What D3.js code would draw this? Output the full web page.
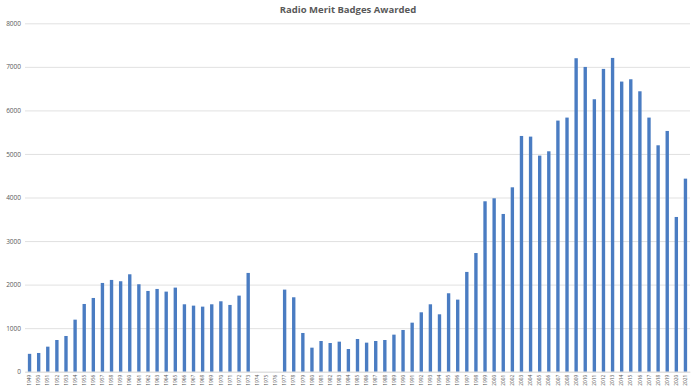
<!DOCTYPE html>
<html>
<head>
<meta charset="utf-8">
<script src="https://cdn.jsdelivr.net/npm/d3@7"></script>
<style>
  body { margin: 0; background: #fff; }
  svg { display: block; font-family: 'Open Sans', 'Liberation Sans', sans-serif; }
</style>
</head>
<body>
<svg id="chart" width="696" height="390"></svg>
<script>
// years 1949..2021, values (1974-1976 have no bar)
const years = d3.range(1949, 2022).map(String);
const badges = [
  410, 430, 575, 728, 820, 1195, 1555, 1693, 2038, 2107,
  2077, 2237, 2008, 1854, 1900, 1839, 1931, 1548, 1517, 1494,
  1548, 1617, 1533, 1747, 2268, 0, 0, 0, 1885, 1709,
  889, 552, 705, 659, 690, 521, 751, 667, 705, 728,
  851, 958, 1126, 1364, 1548, 1318, 1801, 1655, 2291, 2725,
  3913, 3982, 3622, 4234, 5413, 5398, 4962, 5061, 5766, 5835,
  7198, 6998, 6256, 6953, 7205, 6662, 6715, 6439, 5835, 5199,
  5528, 3553, 4433
];
const yTicks = [0, 1000, 2000, 3000, 4000, 5000, 6000, 7000, 8000];
const title = 'Radio Merit Badges Awarded';

const margin = { top: 23, right: 6, bottom: 18, left: 25 };
const width = 696, height = 390;

const svg = d3.select('#chart');

const x = d3.scaleBand()
    .domain(years)
    .range([margin.left, width - margin.right])
    .paddingInner(0.63)
    .paddingOuter(0.315);

const y = d3.scaleLinear()
    .domain([0, 8000])
    .range([height - margin.bottom - 0.3, margin.top + 0.3]);

svg.append('text')
    .attr('x', 348)
    .attr('y', 13)
    .attr('text-anchor', 'middle')
    .style('font-size', '9.5px')
    .style('font-weight', 'bold')
    .style('fill', '#595959')
    .text(title);

// grid + y labels
const yAxis = svg.append('g')
    .attr('transform', `translate(${margin.left},0)`)
    .call(d3.axisLeft(y).tickValues(yTicks).tickFormat(d3.format('d'))
      .tickSize(-(width - margin.left - margin.right)).tickPadding(4));
yAxis.select('.domain').remove();
yAxis.selectAll('.tick line').attr('stroke', '#d9d9d9').attr('stroke-width', 0.8);
yAxis.selectAll('.tick text')
    .style('font-size', '6.5px')
    .style('fill', '#595959')
    .style('font-family', "'Open Sans', sans-serif");

svg.append('g')
  .selectAll('rect')
  .data(badges)
  .enter().append('rect')
    .attr('x', (d, i) => x(years[i]))
    .attr('width', x.bandwidth())
    .attr('y', d => y(d))
    .attr('height', d => y(0) - y(d))
    .attr('fill', '#4a7cc2');

// x labels rotated
const xAxis = svg.append('g')
    .attr('transform', `translate(0,${y(0)})`)
    .call(d3.axisBottom(x).tickSize(0).tickPadding(3));
xAxis.select('.domain').attr('stroke', '#d9d9d9').attr('stroke-width', 0.8);
xAxis.selectAll('.tick text')
    .attr('transform', 'rotate(-90)')
    .attr('x', -3)
    .attr('y', 0)
    .attr('dy', '0.35em')
    .attr('text-anchor', 'end')
    .style('font-size', '4.8px')
    .style('fill', '#595959')
    .style('font-family', "'Open Sans', sans-serif");
</script>
</body>
</html>
